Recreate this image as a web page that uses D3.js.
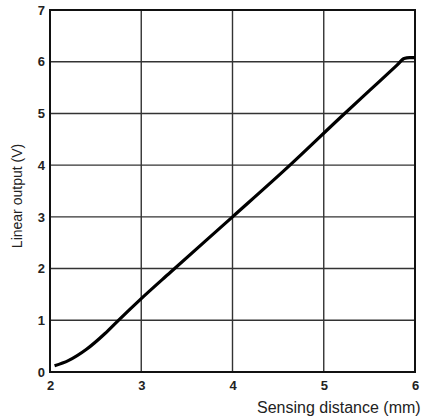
<!DOCTYPE html>
<html>
<head>
<meta charset="utf-8">
<script src="https://cdn.jsdelivr.net/npm/d3@7"></script>
<style>
  body { margin: 0; background: #fff; }
  .tick text { font-family: "Liberation Sans", Arial, sans-serif; }
</style>
</head>
<body>
<div id="chart"></div>
<script>
// curve
var distance = [2.05, 2.2, 2.4, 2.6, 2.75, 3.0, 3.32, 4.0, 4.63, 5.2, 5.5, 5.8, 5.88, 5.94, 6.0];
var output   = [0.12, 0.22, 0.44, 0.74, 1.0, 1.42, 1.93, 3.0, 4.0, 4.95, 5.44, 5.93, 6.06, 6.08, 6.08];

var xTicks = [2, 3, 4, 5, 6];
var yTicks = [0, 1, 2, 3, 4, 5, 6, 7];

var svgWidth = 422;
var svgHeight = 420;

var margin = { top: 10, right: 7, bottom: 48, left: 50 };
var width = svgWidth - margin.left - margin.right;
var height = svgHeight - margin.top - margin.bottom;

var svg = d3.select("#chart")
  .append("svg")
  .attr("width", svgWidth)
  .attr("height", svgHeight);

var chartGroup = svg.append("g")
  .attr("transform", `translate(${margin.left}, ${margin.top})`);

var xScale = d3.scaleLinear().domain([2, 6]).range([0, width]);
var yScale = d3.scaleLinear().domain([0, 7]).range([height, 0]);

// grid
chartGroup.append("g")
  .selectAll("line")
  .data(xTicks.slice(1, -1))
  .enter()
  .append("line")
  .attr("x1", d => xScale(d))
  .attr("x2", d => xScale(d))
  .attr("y1", 0)
  .attr("y2", height)
  .attr("stroke", "#333")
  .attr("stroke-width", 1.4);

chartGroup.append("g")
  .selectAll("line")
  .data(yTicks.slice(1, -1))
  .enter()
  .append("line")
  .attr("x1", 0)
  .attr("x2", width)
  .attr("y1", d => yScale(d))
  .attr("y2", d => yScale(d))
  .attr("stroke", "#333")
  .attr("stroke-width", 1.4);

// frame
chartGroup.append("rect")
  .attr("width", width)
  .attr("height", height)
  .attr("fill", "none")
  .attr("stroke", "#111")
  .attr("stroke-width", 2);

// axes, labels only
var bottomAxis = d3.axisBottom(xScale).tickValues(xTicks).tickFormat(d3.format("d")).tickSize(0).tickPadding(9);
var leftAxis = d3.axisLeft(yScale).tickValues(yTicks).tickFormat(d3.format("d")).tickSize(0).tickPadding(5);

var xAxisG = chartGroup.append("g")
  .attr("transform", `translate(0, ${height})`)
  .call(bottomAxis);

var yAxisG = chartGroup.append("g")
  .call(leftAxis);

[xAxisG, yAxisG].forEach(function(g) {
  g.select(".domain").remove();
  g.selectAll("text")
    .attr("font-size", "13px")
    .attr("font-weight", "bold")
    .attr("fill", "#222");
});

// the curve
var line = d3.line()
  .x((d, i) => xScale(distance[i]))
  .y(d => yScale(d))
  .curve(d3.curveMonotoneX);

chartGroup.append("path")
  .datum(output)
  .attr("d", line)
  .attr("fill", "none")
  .attr("stroke", "#000")
  .attr("stroke-width", 3.2)
  .attr("stroke-linejoin", "round");

// axis titles
svg.append("text")
  .attr("transform", `translate(22, 196) rotate(-90)`)
  .attr("text-anchor", "middle")
  .attr("font-family", "Liberation Sans, Arial, sans-serif")
  .attr("font-size", "14px")
  .attr("fill", "#222")
  .text("Linear output (V)");

svg.append("text")
  .attr("x", 257)
  .attr("y", 413)
  .attr("font-family", "Liberation Sans, Arial, sans-serif")
  .attr("font-size", "16px")
  .attr("fill", "#222")
  .text("Sensing distance (mm)");
</script>
</body>
</html>
